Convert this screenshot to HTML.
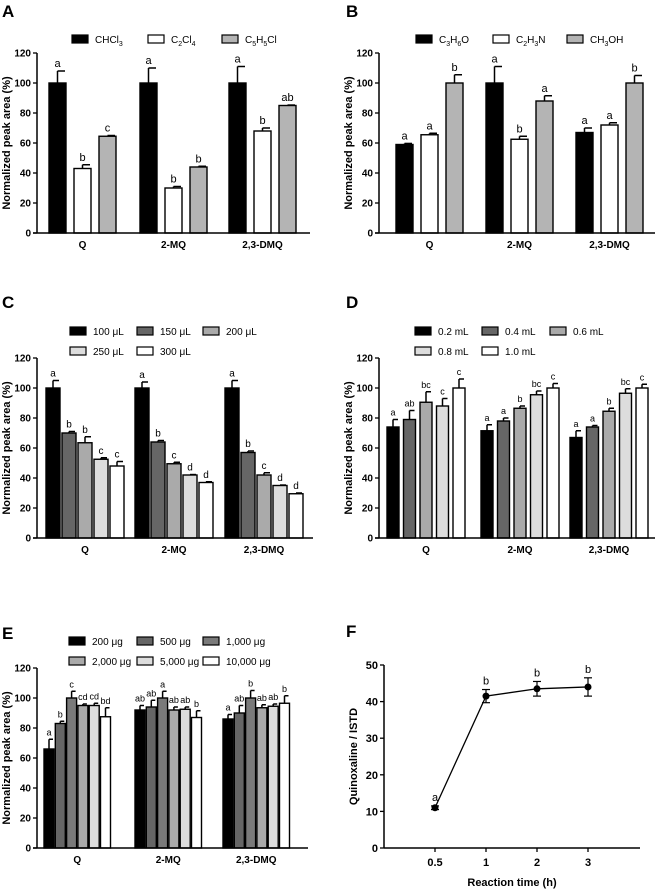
<!DOCTYPE html>
<html><head><meta charset="utf-8"><style>
html,body{margin:0;padding:0;background:#fff}
svg{display:block;font-family:"Liberation Sans",Arial,sans-serif}
</style></head><body>
<svg id="fig" width="656" height="889" viewBox="0 0 656 889" xmlns="http://www.w3.org/2000/svg"></svg>
<script>
const groups = ["Q","2-MQ","2,3-DMQ"];
// Panel A
const aSeries = ["CHCl3","C2Cl4","C5H5Cl"];
const aValues = [[100,100,100],[43,30,68],[64.5,44,85]];
const aErrors = [[8,10,11],[2.5,1,2],[0.5,0.5,0.3]];
const aLetters = [["a","a","a"],["b","b","b"],["c","b","ab"]];
// Panel B
const bSeries = ["C3H6O","C2H3N","CH3OH"];
const bValues = [[59,100,67],[65.5,62.5,72],[100,88,100]];
const bErrors = [[0.7,11,3],[1,2,1.5],[5.5,3.5,5]];
const bLetters = [["a","a","a"],["a","b","a"],["b","a","b"]];
// Panel C
const cSeries = ["100 μL","150 μL","200 μL","250 μL","300 μL"];
const cValues = [[100,100,100],[70,64,57],[63.5,49.5,42],[52.5,42,35],[48,37,29.5]];
const cErrors = [[5,4,5],[1,1,1],[4,1,1.5],[1,0.3,0.3],[3,0.5,0.5]];
const cLetters = [["a","a","a"],["b","b","b"],["b","c","c"],["c","d","d"],["c","d","d"]];
// Panel D
const dSeries = ["0.2 mL","0.4 mL","0.6 mL","0.8 mL","1.0 mL"];
const dValues = [[74,71.5,67],[79,78,74],[90.5,86.5,84.5],[88,95.5,96.5],[100,100,100]];
const dErrors = [[5,4,4.5],[6,2,1],[7,1.5,2],[5,2.5,3],[6,3,2.5]];
const dLetters = [["a","a","a"],["ab","a","a"],["bc","b","b"],["c","bc","bc"],["c","c","c"]];
// Panel E
const eSeries = ["200 μg","500 μg","1,000 μg","2,000 μg","5,000 μg","10,000 μg"];
const eValues = [[66,92,86],[83,94,90],[100,100,100],[95,92,93.5],[95,92.5,94.5],[87.5,87,96.5]];
const eErrors = [[6.5,3,3],[1.5,4.5,5],[4.5,4.5,5],[1,2,2],[1.5,1.5,1.5],[6,4.5,5]];
const eLetters = [["a","ab","a"],["b","ab","ab"],["c","a","b"],["cd","ab","ab"],["cd","ab","ab"],["bd","b","b"]];
// Panel F
const fCategories = ["0.5","1","2","3"];
const fValues = [11,41.5,43.5,44];
const fErrors = [0.5,1.8,2,2.5];
const fLetters = ["a","b","b","b"];
const yTicksBar = [0,20,40,60,80,100,120];
const yTicksF = [0,10,20,30,40,50];

const NS="http://www.w3.org/2000/svg";
const svg=document.getElementById('fig');
function mk(tag,attrs,parent){const e=document.createElementNS(NS,tag);for(const k in attrs)e.setAttribute(k,attrs[k]);(parent||svg).appendChild(e);return e;}
function chemText(t,x,y,size,parent){
  const el=mk('text',{x:x,y:y,'font-size':size,fill:'#000'},parent);
  const parts=t.match(/[A-Za-z]+|\d+|[^A-Za-z\d]+/g);
  const isChem=/^C[A-Z0-9]/.test(t)||/^CH/.test(t);
  let lowered=false;
  parts.forEach(p=>{const ts=document.createElementNS(NS,'tspan');
    if(isChem&&/^\d+$/.test(p)){ts.setAttribute('font-size',size*0.7);ts.setAttribute('dy',3);lowered=true;}
    else if(lowered){ts.setAttribute('dy',-3);lowered=false;}
    ts.textContent=p;el.appendChild(ts);});
  return el;
}
function barPanel(o){
  const g=mk('g',{});
  
  
  const yS=v=>o.y0-(v/120)*(o.y0-o.y120);
  const L=mk('text',{x:o.letterX,y:o.letterY,'font-size':17,'font-weight':'bold'},g);L.textContent=o.letter;
  
  
  o.series.forEach((s,i)=>{
    const pos=o.legendPos[i];
    const r=mk('rect',{x:pos[0],y:pos[1]-4,width:16,height:8,fill:o.colors[i],stroke:'#000','stroke-width':1.2},g);
    
    
    const t=chemText(s,pos[0]+23,pos[1]+4,10,g);
    
    
  });
  groups.forEach((gn,gi)=>{
    o.series.forEach((s,si)=>{
      const v=o.values[si][gi],e=o.errors[si][gi];
      const x=o.groupX[gi]+si*o.step;
      const yt=yS(v),ye=yS(v+e);
      const cx=x+o.bw/2;
      mk('line',{x1:cx,x2:cx,y1:yt,y2:ye,stroke:'#000','stroke-width':1.5},g);
      mk('line',{x1:cx,x2:cx+o.bw/2-1,y1:ye,y2:ye,stroke:'#000','stroke-width':1.5},g);
      const b=mk('rect',{x:x,y:yt,width:o.bw,height:o.y0-yt,fill:o.colors[si],stroke:'#000','stroke-width':1.4},g);
      
      
      const lt=mk('text',{x:cx,y:ye-4,'font-size':o.lsize,'text-anchor':'middle'},g);lt.textContent=o.letters[si][gi];
      
      
    });
    const gw=(o.series.length-1)*o.step+o.bw;
    const xl=mk('text',{x:o.groupX[gi]+gw/2,y:o.y0+15,'font-size':10,'font-weight':'bold','text-anchor':'middle'},g);xl.textContent=gn;
    
    
  });
  mk('line',{x1:o.ax,x2:o.ax,y1:o.y120,y2:o.y0,stroke:'#000','stroke-width':1.5},g);
  mk('line',{x1:o.ax-4,x2:o.xEnd,y1:o.y0,y2:o.y0,stroke:'#000','stroke-width':1.5},g);
  yTicksBar.forEach(t=>{const y=yS(t);mk('line',{x1:o.ax-4,x2:o.ax,y1:y,y2:y,stroke:'#000','stroke-width':1.3},g);
    const tl=mk('text',{x:o.ax-6,y:y+3.5,'font-size':10,'font-weight':'bold','text-anchor':'end'},g);tl.textContent=t;
    
    });
  const cy=(o.y0+o.y120)/2;
  const yt=mk('text',{x:o.titleX,y:cy,'font-size':11,'font-weight':'bold','text-anchor':'middle',transform:`rotate(-90 ${o.titleX} ${cy})`},g);
  yt.textContent='Normalized peak area  (%)';
  
  
}
barPanel({name:'panel-a',letter:'A',letterX:2,letterY:17,series:aSeries,values:aValues,errors:aErrors,letters:aLetters,
  colors:['#000','#fff','#b4b4b4'],legendPos:[[72,39],[148,39],[222,39]],groupX:[49,140,229],step:25,bw:17,
  y0:233,y120:53,ax:37,xEnd:310,titleX:10,lsize:11});
barPanel({name:'panel-b',letter:'B',letterX:346,letterY:17,series:bSeries,values:bValues,errors:bErrors,letters:bLetters,
  colors:['#000','#fff','#b4b4b4'],legendPos:[[416,39],[493,39],[567,39]],groupX:[396,486,576],step:25,bw:17,
  y0:233,y120:53,ax:379,xEnd:655,titleX:352,lsize:11});
barPanel({name:'panel-c',letter:'C',letterX:2,letterY:308,series:cSeries,values:cValues,errors:cErrors,letters:cLetters,
  colors:['#000','#666','#aaa','#ddd','#fff'],legendPos:[[70,331],[137,331],[203,331],[70,351],[137,351]],groupX:[46,135,225],step:16,bw:14,
  y0:538,y120:358,ax:37,xEnd:313,titleX:10,lsize:10});
barPanel({name:'panel-d',letter:'D',letterX:346,letterY:308,series:dSeries,values:dValues,errors:dErrors,letters:dLetters,
  colors:['#000','#666','#aaa','#ddd','#fff'],legendPos:[[415,331],[482,331],[550,331],[415,351],[482,351]],groupX:[387,481,570],step:16.5,bw:12,
  y0:538,y120:358,ax:379,xEnd:655,titleX:352,lsize:9});
barPanel({name:'panel-e',letter:'E',letterX:2,letterY:639,series:eSeries,values:eValues,errors:eErrors,letters:eLetters,
  colors:['#000','#666','#7a7a7a','#aaa','#ddd','#fff'],legendPos:[[69,641],[137,641],[203,641],[69,661],[137,661],[203,661]],groupX:[44,135,223],step:11.3,bw:10,
  y0:848,y120:668,ax:37,xEnd:308,titleX:10,lsize:9});

(function(){
  const g=mk('g',{});
  
  
  const ax=384,y0=848,y50=665,xEnd=640;
  const xPos=[435,486,537,588];
  const yS=v=>y0-(v/50)*(y0-y50);
  const L=mk('text',{x:346,y:637,'font-size':17,'font-weight':'bold'},g);L.textContent='F';
  
  
  mk('line',{x1:ax,x2:ax,y1:y50,y2:y0,stroke:'#000','stroke-width':1.5},g);
  mk('line',{x1:ax,x2:xEnd,y1:y0,y2:y0,stroke:'#000','stroke-width':1.5},g);
  yTicksF.forEach(t=>{const y=yS(t);mk('line',{x1:ax-4,x2:ax,y1:y,y2:y,stroke:'#000','stroke-width':1.3},g);
    const tl=mk('text',{x:ax-6,y:y+4,'font-size':11,'font-weight':'bold','text-anchor':'end'},g);tl.textContent=t;
    
    });
  let d='';
  fValues.forEach((v,i)=>{const x=xPos[i],y=yS(v);d+=(i?'L':'M')+x+' '+y;
    mk('line',{x1:x,x2:x,y1:y0,y2:y0+4,stroke:'#000','stroke-width':1.3},g);
    const xl=mk('text',{x:x,y:y0+18,'font-size':11,'font-weight':'bold','text-anchor':'middle'},g);xl.textContent=fCategories[i];
    
    
  });
  const p=mk('path',{d:d,fill:'none',stroke:'#000','stroke-width':1.3},g);
  
  
  fValues.forEach((v,i)=>{const x=xPos[i],y=yS(v),e=fErrors[i];const yt=yS(v+e),yb=yS(v-e);
    mk('line',{x1:x,x2:x,y1:yt,y2:yb,stroke:'#000','stroke-width':1.2},g);
    mk('line',{x1:x-4,x2:x+4,y1:yt,y2:yt,stroke:'#000','stroke-width':1.2},g);
    mk('line',{x1:x-4,x2:x+4,y1:yb,y2:yb,stroke:'#000','stroke-width':1.2},g);
    const c=mk('circle',{cx:x,cy:y,r:3.5,fill:'#000'},g);
    
    
    const lt=mk('text',{x:x,y:yt-5,'font-size':11,'text-anchor':'middle'},g);lt.textContent=fLetters[i];
    
    
  });
  const xt=mk('text',{x:512,y:886,'font-size':11,'font-weight':'bold','text-anchor':'middle'},g);xt.textContent='Reaction time (h)';
  
  
  const cy=(y0+y50)/2;
  const yt=mk('text',{x:357,y:cy,'font-size':11,'font-weight':'bold','text-anchor':'middle',transform:`rotate(-90 357 ${cy})`},g);
  yt.textContent='Quinoxaline / ISTD';
  
  
})();
</script>
</body></html>
